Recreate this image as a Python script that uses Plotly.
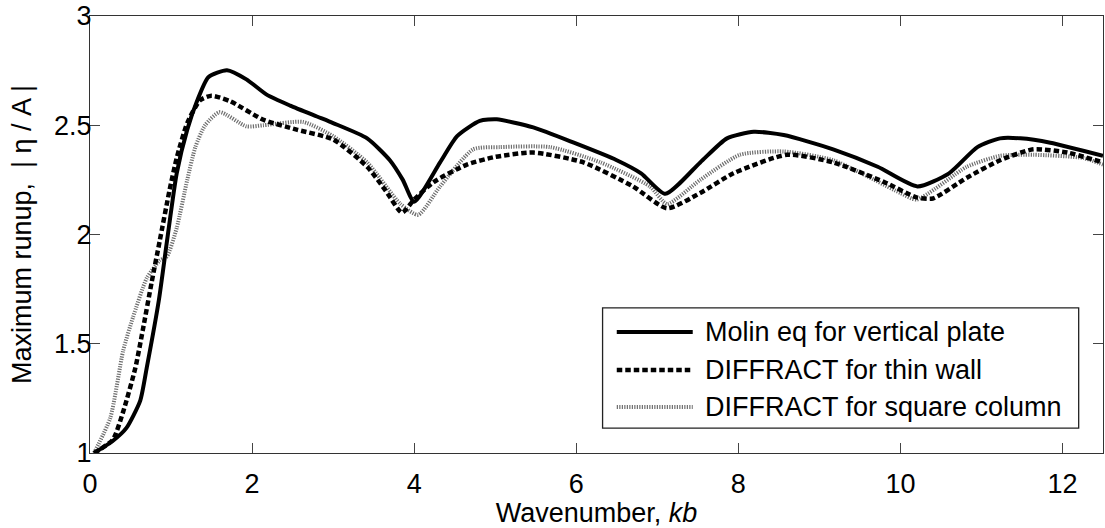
import plotly.graph_objects as go

# ---- data ----
names = ["Molin eq for vertical plate", "DIFFRACT for thin wall", "DIFFRACT for square column"]

molin_x = [0.05, 0.28, 0.45, 0.62, 0.70, 0.85, 0.95, 1.07, 1.2, 1.32, 1.46, 1.69, 1.93, 2.18, 2.47,
           2.8, 3.0, 3.42, 3.7, 3.86, 4.0, 4.32, 4.53, 4.81, 5.02, 5.47, 5.97, 6.5, 6.8, 7.1,
           7.53, 7.86, 8.19, 8.56, 9.17, 9.72, 10.21, 10.6, 10.95, 11.23, 11.48, 11.85, 12.5]
molin_y = [1.0, 1.055, 1.115, 1.24, 1.39, 1.70, 1.97, 2.28, 2.48, 2.61, 2.72, 2.752, 2.71, 2.64, 2.59,
           2.54, 2.51, 2.44, 2.34, 2.25, 2.15, 2.33, 2.45, 2.52, 2.527, 2.49, 2.42, 2.34, 2.28, 2.186,
           2.33, 2.44, 2.47, 2.455, 2.39, 2.31, 2.22, 2.28, 2.40, 2.44, 2.44, 2.42, 2.36]

thin_x = [0.05, 0.28, 0.41, 0.56, 0.65, 0.76, 0.86, 0.98, 1.07, 1.2, 1.36, 1.5, 1.73, 2.14, 2.55,
          3.0, 3.42, 3.65, 3.85, 4.0, 4.24, 4.65, 5.0, 5.47, 6.09, 6.7, 7.12, 7.53, 7.94, 8.6,
          9.17, 9.8, 10.2, 10.4, 10.82, 11.23, 11.64, 12.06, 12.5]
thin_y = [1.0, 1.06, 1.19, 1.39, 1.56, 1.78, 1.97, 2.2, 2.35, 2.51, 2.615, 2.635, 2.61, 2.525, 2.48,
          2.435, 2.31, 2.20, 2.10, 2.16, 2.24, 2.32, 2.355, 2.375, 2.33, 2.22, 2.12, 2.19, 2.28, 2.365,
          2.33, 2.24, 2.17, 2.165, 2.26, 2.34, 2.39, 2.375, 2.33]

square_x = [0.05, 0.25, 0.41, 0.53, 0.70, 0.86, 0.95, 1.07, 1.2, 1.3, 1.42, 1.6, 1.93, 2.14, 2.63,
            3.0, 3.42, 3.83, 4.05, 4.32, 4.73, 5.06, 5.68, 6.3, 6.91, 7.12, 7.53, 8.02, 8.56, 9.17,
            10.0, 10.2, 10.82, 11.23, 11.64, 12.26, 12.5]
square_y = [1.0, 1.16, 1.47, 1.62, 1.80, 1.88, 1.90, 2.03, 2.25, 2.40, 2.50, 2.56, 2.495, 2.50, 2.515,
            2.45, 2.33, 2.14, 2.09, 2.22, 2.39, 2.40, 2.40, 2.33, 2.22, 2.14, 2.25, 2.365, 2.38, 2.34,
            2.19, 2.16, 2.31, 2.36, 2.365, 2.35, 2.32]

x_ticks = [0, 2, 4, 6, 8, 10, 12]
x_tick_text = ["0", "2", "4", "6", "8", "10", "12"]
y_ticks = [1, 1.5, 2, 2.5, 3]
y_tick_text = ["1", "1.5", "2", "2.5", "3"]

# ---- styles ----
FONT = "Arial, 'Liberation Sans', sans-serif"
styles = [
    dict(color="black", width=4, dash="solid"),
    dict(color="black", width=4.5, dash="5.5px,3px"),
    dict(color="#6e6e6e", width=4, dash="1.2px,1.3px"),
]
series = [(molin_x, molin_y), (thin_x, thin_y), (square_x, square_y)]
order = [2, 1, 0]  # draw the grey one underneath

fig = go.Figure()
for i in order:
    xs, ys = series[i]
    fig.add_trace(go.Scatter(
        x=xs, y=ys, mode="lines", name=names[i],
        line=dict(shape="spline", smoothing=0.6, **styles[i]),
        showlegend=False,
    ))

axis_common = dict(
    showline=True, linecolor="#333333", linewidth=1.3, mirror="ticks",
    ticks="inside", ticklen=10, tickwidth=1.3, tickcolor="#444444",
    showgrid=False, zeroline=False,
    tickfont=dict(family=FONT, size=27, color="black"),
)

fig.update_layout(
    width=1105, height=528,
    margin=dict(l=90, r=2, t=16, b=75),
    paper_bgcolor="white", plot_bgcolor="white",
    font=dict(family=FONT, size=27, color="black"),
    xaxis=dict(range=[0, 12.5], tickvals=x_ticks, ticktext=x_tick_text, ticklabelstandoff=6,
               title=dict(text="Wavenumber, <i>kb</i>", font=dict(family=FONT, size=27), standoff=4),
               **axis_common),
    yaxis=dict(range=[1, 3], tickvals=y_ticks, ticktext=y_tick_text, ticklabelstandoff=-8,
               title=dict(text="Maximum runup,  | η / A |", font=dict(family=FONT, size=27), standoff=14),
               **axis_common),
    showlegend=False,
)

# ---- legend box drawn manually (long sample lines as in the reference) ----
fig.add_shape(type="rect", xref="paper", yref="paper", x0=0.506, x1=0.976, y0=0.057, y1=0.332,
              line=dict(color="#222222", width=1.3), fillcolor="white", layer="above")
row_y = [0.277, 0.190, 0.105]
for i in range(3):
    st = styles[i]
    fig.add_shape(type="line", xref="paper", yref="paper", x0=0.520, x1=0.595, y0=row_y[i], y1=row_y[i],
                  line=dict(color=st["color"], width=st["width"], dash=st["dash"]), layer="above")
    fig.add_annotation(xref="paper", yref="paper", x=0.605, y=row_y[i], text=names[i], showarrow=False,
                       xanchor="left", yanchor="middle", font=dict(family=FONT, size=27, color="black"))

fig.write_html("out.html")
